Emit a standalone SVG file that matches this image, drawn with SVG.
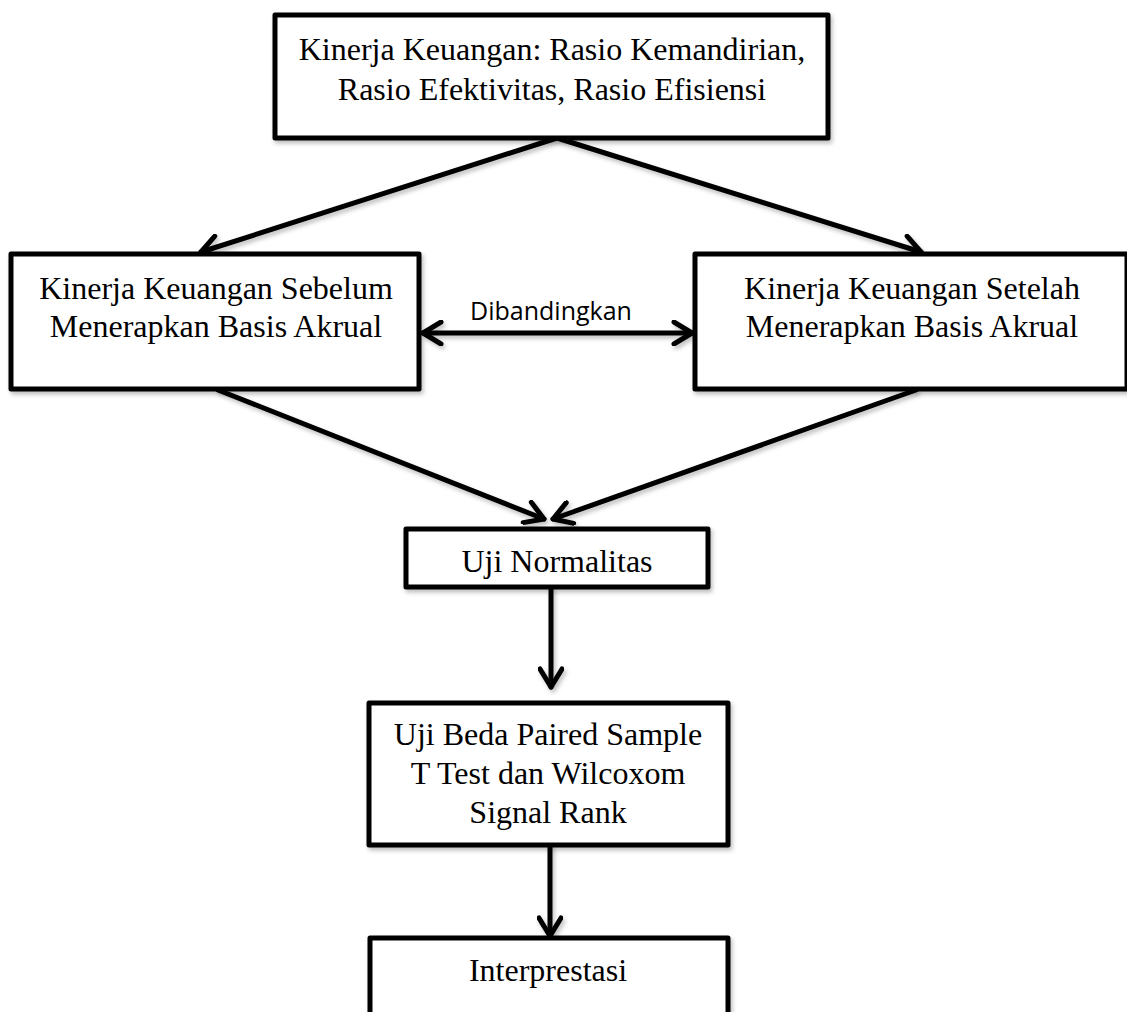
<svg xmlns="http://www.w3.org/2000/svg" width="1127" height="1012" viewBox="0 0 1127 1012">
<style>
.box{fill:#fff;stroke:#000;stroke-width:5;stroke-linejoin:round}
.t{font-family:"Liberation Serif","Times New Roman",serif;font-size:32px;fill:#000;text-anchor:middle}
.lbl{font-family:"Open Sans","Liberation Sans",sans-serif;font-size:25px;fill:#000;text-anchor:middle}
.c{stroke:#000;stroke-width:5;fill:none;stroke-linecap:round}
</style>
<defs>
<filter id="sh" x="-10%" y="-10%" width="130%" height="140%">
<feDropShadow dx="2" dy="3" stdDeviation="2" flood-color="#000" flood-opacity="0.25"/>
</filter>
<marker id="ah" viewBox="0 0 26 26" markerWidth="26" markerHeight="26" refX="23" refY="13" orient="auto-start-reverse" markerUnits="userSpaceOnUse">
<path d="M5,2 L23,13 L5,24" fill="none" stroke="#000" stroke-width="5" stroke-linecap="round" stroke-linejoin="round"/>
</marker>
</defs>
<rect width="1127" height="1012" fill="#fff"/>
<g id="connectors" filter="url(#sh)">
<line class="c" x1="557" y1="138" x2="201" y2="252" marker-end="url(#ah)"/>
<line class="c" x1="557" y1="138" x2="921" y2="252" marker-end="url(#ah)"/>
<line class="c" x1="423" y1="333" x2="692" y2="333" marker-start="url(#ah)" marker-end="url(#ah)"/>
<line class="c" x1="218" y1="390" x2="544" y2="519" marker-end="url(#ah)"/>
<line class="c" x1="916" y1="390" x2="553" y2="519" marker-end="url(#ah)"/>
<line class="c" x1="551" y1="588" x2="551" y2="687" marker-end="url(#ah)"/>
<line class="c" x1="550" y1="846" x2="550" y2="936" marker-end="url(#ah)"/>
</g>
<g id="n-top">
<rect class="box" x="275" y="15" width="553" height="123" filter="url(#sh)"/>
<text class="t" x="552" y="60">Kinerja Keuangan: Rasio Kemandirian,</text>
<text class="t" x="552" y="100">Rasio Efektivitas, Rasio Efisiensi</text>
</g>
<g id="n-sebelum">
<rect class="box" x="11" y="254" width="408" height="135" filter="url(#sh)"/>
<text class="t" x="216" y="299">Kinerja Keuangan Sebelum</text>
<text class="t" x="216" y="337">Menerapkan Basis Akrual</text>
</g>
<g id="n-setelah">
<rect class="box" x="695" y="254" width="432" height="135" filter="url(#sh)"/>
<text class="t" x="912" y="299">Kinerja Keuangan Setelah</text>
<text class="t" x="912" y="337">Menerapkan Basis Akrual</text>
</g>
<g id="e-label">
<text class="lbl" x="551" y="320">Dibandingkan</text>
</g>
<g id="n-normalitas">
<rect class="box" x="406" y="529" width="302" height="58" filter="url(#sh)"/>
<text class="t" x="557" y="572">Uji Normalitas</text>
</g>
<g id="n-beda">
<rect class="box" x="369" y="703" width="359" height="142" filter="url(#sh)"/>
<text class="t" x="548" y="745">Uji Beda Paired Sample</text>
<text class="t" x="548" y="784">T Test dan Wilcoxom</text>
<text class="t" x="548" y="823">Signal Rank</text>
</g>
<g id="n-interpretasi">
<path class="box" d="M370,1014 L370,938 L728,938 L728,1014" filter="url(#sh)"/>
<text class="t" x="548" y="981">Interprestasi</text>
</g>
</svg>
